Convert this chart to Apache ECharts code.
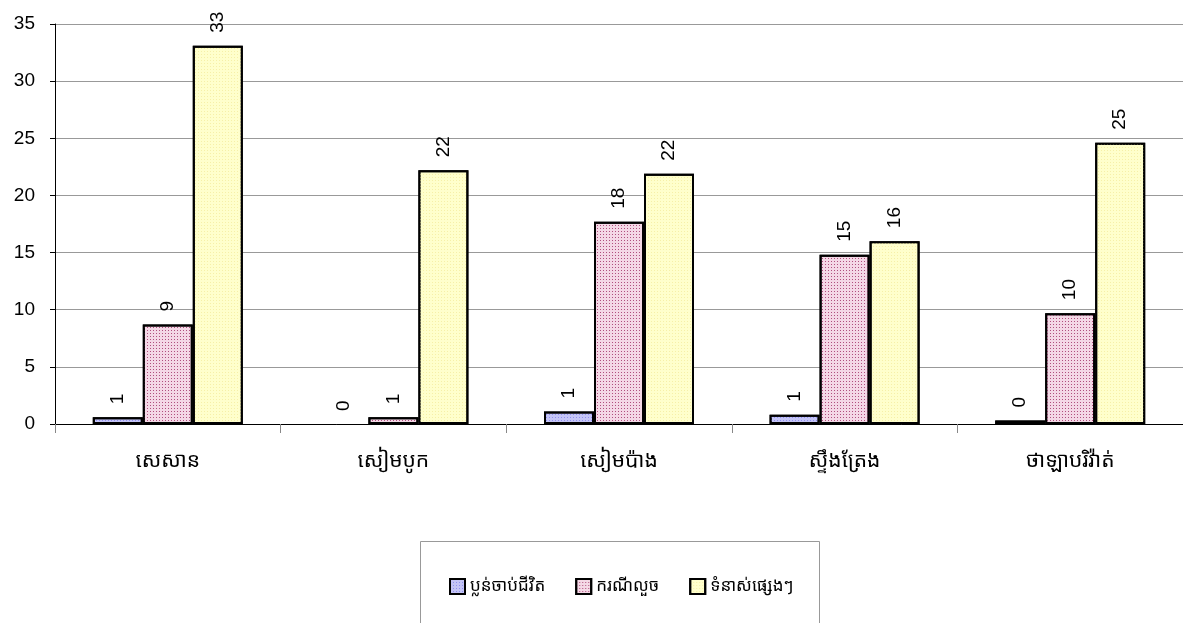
<!DOCTYPE html>
<html>
<head>
<meta charset="utf-8">
<script src="https://cdn.jsdelivr.net/npm/echarts@6/dist/echarts.min.js"></script>
<style>html,body{margin:0;padding:0;background:#fff}#c{width:1183px;height:623px}</style>
</head>
<body>
<div id="c"></div>
<script>
const categories = ["សេសាន", "សៀមបូក", "សៀមប៉ាង", "ស្ទឹងត្រែង", "ថាឡាបរិវ៉ាត់"];
const seriesNames = ["ប្លន់ចាប់ជីវិត", "ករណីលួច", "ទំនាស់ផ្សេងៗ"];
const robbery = [0.6, 0, 1.1, 0.8, 0.3];
const theft = [8.7, 0.6, 17.7, 14.8, 9.7];
const other = [33.1, 22.2, 21.9, 16.0, 24.6];
const yTicks = { min: 0, max: 35, interval: 5 };

const chart = echarts.init(document.getElementById('c'), null, { renderer: 'canvas' });
const font = 'Arial, "Liberation Sans", sans-serif';
const khmerFont = '"Khmer OS", "Noto Sans Khmer", "Noto Sans", Arial, sans-serif';

function mk(name, data, color, decalColor) {
  return {
    name: name,
    type: 'bar',
    data: data.map(v => v === 0 ? { value: v, itemStyle: { borderWidth: 0 } } : v),
    barWidth: 50,
    barGap: '0%',
    itemStyle: {
      color: color,
      borderColor: '#000',
      borderWidth: 2,
      decal: { symbol: 'rect', symbolSize: 1, dashArrayX: [1, 2], dashArrayY: [1, 2], color: decalColor }
    },
    label: {
      show: true,
      position: 'top',
      rotate: 90,
      align: 'left',
      verticalAlign: 'middle',
      distance: 13,
      fontFamily: font,
      fontSize: 19,
      color: '#000',
      formatter: p => String(Math.round(p.value))
    }
  };
}

chart.setOption({
  animation: false,
  backgroundColor: '#fff',
  grid: { left: 55, right: 0, top: 24, bottom: 199 },
  xAxis: {
    type: 'category',
    data: categories,
    axisLine: { lineStyle: { color: '#000', width: 1 } },
    axisTick: { show: true, length: 9, lineStyle: { color: '#888' } },
    axisLabel: { fontFamily: khmerFont, fontSize: 21, color: '#000', margin: 27 }
  },
  yAxis: {
    type: 'value',
    min: yTicks.min, max: yTicks.max, interval: yTicks.interval,
    axisLine: { show: true, lineStyle: { color: '#000' } },
    axisTick: { show: true, length: 5, lineStyle: { color: '#000' } },
    axisLabel: { fontFamily: font, fontSize: 19, color: '#000', margin: 20 },
    splitLine: { lineStyle: { color: '#999', width: 1 } }
  },
  legend: {
    data: seriesNames,
    left: 444,
    top: 573,
    itemWidth: 15,
    itemHeight: 15,
    itemGap: 30,
    icon: 'rect',
    itemStyle: { borderColor: '#000', borderWidth: 2 },
    textStyle: { fontFamily: khmerFont, fontSize: 17, color: '#000' }
  },
  graphic: [{
    type: 'rect',
    shape: { x: 420.5, y: 541.5, width: 399, height: 100 },
    style: { fill: 'none', stroke: '#999', lineWidth: 1 },
    silent: true
  }],
  series: [
    mk(seriesNames[0], robbery, '#c4c4f6', '#9090ee'),
    mk(seriesNames[1], theft, '#f4d8e6', '#b0507e'),
    mk(seriesNames[2], other, '#ffffcc', '#f6f0a8')
  ]
});
</script>
</body>
</html>
